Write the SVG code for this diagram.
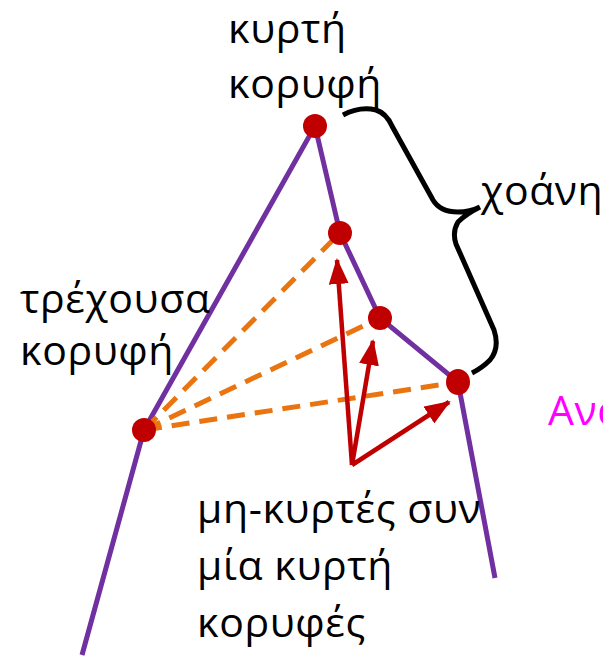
<svg xmlns="http://www.w3.org/2000/svg" width="603" height="656" viewBox="0 0 603 656">
<style>
.t{font-family:"Open Sans","Noto Sans",sans-serif;font-size:41px;letter-spacing:0.6px;fill:#000}
.poly{stroke:#7030A0;stroke-width:5;fill:none;stroke-linecap:butt}
.dash{stroke:#E97410;stroke-width:5;stroke-dasharray:18 10;fill:none}
.arr{stroke:#C00000;stroke-width:4.5;fill:none}
.dot{fill:#C00000}
</style>
<defs>
<marker id="ah" markerUnits="userSpaceOnUse" markerWidth="26" markerHeight="20" refX="24" refY="10" orient="auto">
<path d="M0,0 L26,10 L0,20 Z" fill="#C00000"/>
</marker>
</defs>
<rect width="603" height="656" fill="#fff"/>
<g id="connectors">
<polyline class="poly" points="82,655 144,430 315,126 340,233 380,318 458,382 495,578"/>
<line class="dash" x1="144" y1="430" x2="340" y2="233"/>
<line class="dash" x1="144" y1="430" x2="380" y2="318"/>
<line class="dash" x1="144" y1="430" x2="458" y2="382"/>
<line class="arr" x1="352" y1="465" x2="337" y2="260" marker-end="url(#ah)"/>
<line class="arr" x1="352" y1="465" x2="373" y2="341" marker-end="url(#ah)"/>
<line class="arr" x1="352" y1="465" x2="449" y2="402" marker-end="url(#ah)"/>
<path d="M343,115 Q360,106 376,110 Q386,113 392,126 L433,200 Q440,212 458,212 Q470,212 480,207 Q466,214 458,222 Q452,232 456,244 L494,330 Q500,348 490,360 Q482,368 472,373" fill="none" stroke="#000" stroke-width="5"/>
</g>
<g id="v_top"><circle class="dot" cx="315" cy="126" r="12"/></g>
<g id="v_b"><circle class="dot" cx="340" cy="233" r="12"/></g>
<g id="v_c"><circle class="dot" cx="380" cy="318" r="12"/></g>
<g id="v_d"><ellipse class="dot" cx="458" cy="382" rx="12" ry="13"/></g>
<g id="v_current"><circle class="dot" cx="144" cy="430" r="12"/></g>
<g id="label_convex"><text class="t" x="228" y="43">κυρτή</text><text class="t" x="228" y="98">κορυφή</text></g>
<g id="label_funnel"><text class="t" x="481" y="205">χοάνη</text></g>
<g id="label_current"><text class="t" x="20" y="313">τρέχουσα</text><text class="t" x="20" y="365">κορυφή</text></g>
<g id="label_cut"><text class="t" x="548" y="425" style="fill:#FF00FF">Ανα</text></g>
<g id="label_nonconvex"><text class="t" x="197" y="523">μη-κυρτές συν</text><text class="t" x="197" y="580">μία κυρτή</text><text class="t" x="197" y="637">κορυφές</text></g>
</svg>
